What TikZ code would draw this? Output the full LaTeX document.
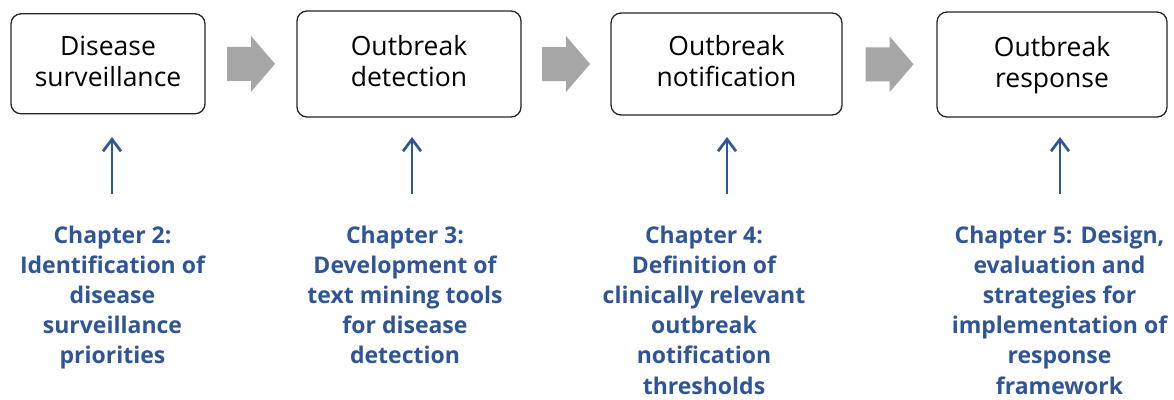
\documentclass[tikz,border=0pt]{standalone}
\usepackage{fontspec}
\setmainfont{Open Sans}
\usetikzlibrary{arrows.meta,calc}
\definecolor{chapblue}{HTML}{2F5597}
\definecolor{flowgray}{HTML}{A6A6A6}
\definecolor{boxline}{HTML}{262626}
\begin{document}
\begin{tikzpicture}[x=1pt,y=-1pt,
  stage/.style={draw=boxline, line width=1.3pt, rounded corners=10pt, fill=white},
  stagetext/.style={align=center, inner sep=0pt, text depth=0pt,
    font=\fontsize{26.5}{31}\selectfont, text=black},
  flowarrow/.style={fill=flowgray, draw=none},
  chapter/.style={align=center, inner sep=0pt, anchor=north, text=chapblue,
    font=\bfseries\fontsize{23}{30.2}\selectfont},
  link/.style={draw=chapblue, line width=2.7pt,
    -{Straight Barb[length=12pt,width=18pt,line width=2.7pt]}}]
\useasboundingbox (0,0) rectangle (1174,399);

% process stages
\node[stage, minimum width=194pt, minimum height=100pt] (b1) at (108,63.8) {};
\node[stage, minimum width=224pt, minimum height=106pt] (b2) at (409,64) {};
\node[stage, minimum width=231pt, minimum height=102pt] (b3) at (726.5,64) {};
\node[stage, minimum width=230pt, minimum height=105pt] (b4) at (1052,64.5) {};

\node[stagetext] (t1) at ($(b1.center)+(0,-3)$) {Disease\\surveillance};
\node[stagetext] (t2) at ($(b2.center)+(0,-3)$) {Outbreak\\detection};
\node[stagetext] (t3) at ($(b3.center)+(0,-3)$) {Outbreak\\notification};
\node[stagetext] (t4) at ($(b4.center)+(0,-3)$) {Outbreak\\response};

% block arrows between the stages
\coordinate (m1) at ($(b1.east)!0.5!(b2.west)$);
\coordinate (m2) at ($(b2.east)!0.5!(b3.west)$);
\coordinate (m3) at ($(b3.east)!0.5!(b4.west)$);
\foreach \m in {m1,m2,m3}
  \fill[flowarrow] ($(\m)+(-24,-17)$) -- ++(24,0) -- ++(0,-11) -- ++(24,28)
    -- ++(-24,28) -- ++(0,-11) -- ++(-24,0) -- cycle;

% thesis chapters
\node[chapter] (c1) at (112.5,225.5) {Chapter 2:\\Identification of\\disease\\surveillance\\priorities};
\node[chapter] (c2) at (405,225.5) {Chapter 3:\\Development of\\text mining tools\\for disease\\detection};
\node[chapter] (c3) at (704,225.5) {Chapter 4:\\Definition of\\clinically relevant\\outbreak\\notification\\thresholds};
\node[chapter] (c4) at (1059.5,225.5) {Chapter 5: Design,\\evaluation and\\strategies for\\implementation of\\response\\framework};

% each chapter feeds its stage
\coordinate (p1) at (112,194);  \coordinate (q1) at (112,137);
\coordinate (p2) at (412,194);  \coordinate (q2) at (412,137);
\coordinate (p3) at (727,194);  \coordinate (q3) at (727,137);
\coordinate (p4) at (1060,194); \coordinate (q4) at (1060,137);
\foreach \i in {1,2,3,4}
  \draw[link] (p\i) -- (q\i);
\end{tikzpicture}
\end{document}
